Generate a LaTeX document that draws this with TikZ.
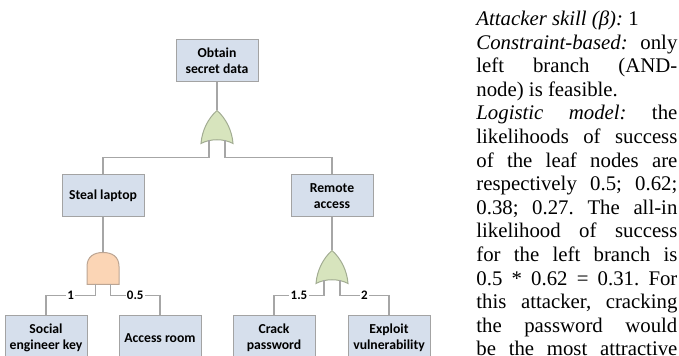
\documentclass[tikz,border=0pt]{standalone}
\usepackage{fontspec}
\setmainfont{Liberation Serif}
\newfontfamily\calibri{Carlito}
\usetikzlibrary{positioning}
\definecolor{boxfill}{HTML}{D6DFEC}
\definecolor{boxline}{HTML}{A3A3A3}
\definecolor{orfill}{HTML}{D7E4BD}
\definecolor{orline}{HTML}{A2AC92}
\definecolor{andfill}{HTML}{FBD5B5}
\definecolor{andline}{HTML}{BCA593}
\definecolor{wirecol}{HTML}{A6A6A6}

\begin{document}
\begin{tikzpicture}[x=0.5pt,y=-0.5pt,
						box/.style={rectangle,draw=boxline,fill=boxfill,line width=0.5pt,minimum width=41pt,minimum height=21pt,inner sep=1pt,align=center,font=\calibri\bfseries\fontsize{6.85}{8}\selectfont},
						leaf/.style={box,minimum height=22pt},
						wire/.style={draw=wirecol,line width=0.6pt},
						wlbl/.style={fill=white,inner sep=0.6pt,font=\calibri\bfseries\fontsize{6.5}{7}\selectfont},
						note/.style={text width=100.5pt,align=justify,inner sep=0pt,font=\fontsize{10.4}{11.8}\selectfont},
						orgate/.pic={\draw[draw=orline,fill=orfill,line width=0.5pt] (0,0) .. controls (-9,8) and (-15,20) .. (-16,33) .. controls (-7,28) and (7,28) .. (16,33) .. controls (15,20) and (9,8) .. (0,0) -- cycle;
							\coordinate (-top) at (0,0); \coordinate (-l) at (-8,30); \coordinate (-r) at (8,30);},
						andgate/.pic={\draw[draw=andline,fill=andfill,line width=0.5pt] (-16,32) -- (-16,14) .. controls (-16,4) and (-9,0) .. (0,0) .. controls (9,0) and (16,4) .. (16,14) -- (16,32) -- cycle;
							\coordinate (-top) at (0,0); \coordinate (-l) at (-7.5,32); \coordinate (-r) at (7.5,32);}]
		\useasboundingbox (0,0) rectangle (679,356);
		\clip (0,0) rectangle (679,356);

		\node[box]												(root)	at (217,61)	{Obtain\\secret data};
		\node[box,node distance=46pt,below=of root,xshift=-57pt]	(steal)	{Steal laptop};
		\node[box,node distance=46pt,below=of root,xshift=57.5pt]	(remote)	{Remote\\access};
		\node[leaf,node distance=49pt,below=of steal,xshift=-28.5pt]	(key)	{Social\\engineer key};
		\node[leaf,node distance=49pt,below=of steal,xshift=28.5pt]	(room)	{Access room};
		\node[leaf,node distance=49pt,below=of remote,xshift=-29pt]	(crack)	{Crack\\password};
		\node[leaf,node distance=49pt,below=of remote,xshift=28.5pt]	(vuln)	{Exploit\\vulnerability};

		\pic[yshift=-14pt]	(g0) at (root.south)	{orgate};
		\pic[yshift=-17.5pt]	(g1) at (steal.south)	{andgate};
		\pic[yshift=-16.5pt]	(g2) at (remote.south)	{orgate};

		\draw[wire] (root.south) -- (g0-top);
		\draw[wire] (g0-l) -- ++(0,17) -| (steal.north);
		\draw[wire] (g0-r) -- ++(0,17) -| (remote.north);
		\draw[wire] (steal.south) -- (g1-top);
		\draw[wire] (remote.south) -- (g2-top);
		\draw[wire] (g1-l) -- ++(0,11) -| node[wlbl,pos=0.25] {1} (key.north);
		\draw[wire] (g1-r) -- ++(0,11) -| node[wlbl,pos=0.25] {0.5} (room.north);
		\draw[wire] (g2-l) -- ++(0,15) -| node[wlbl,pos=0.25] {1.5} (crack.north);
		\draw[wire] (g2-r) -- ++(0,15) -| node[wlbl,pos=0.25] {2} (vuln.north);

		\node[note,anchor=north west]	(txt)	at (476,10.5)	{\tolerance=10000\hbadness=10000\frenchspacing
			\textit{Attacker skill (β):} 1\par
			\textit{Constraint-based:} only\linebreak left branch (AND-\linebreak node) is feasible.\par
			\textit{Logistic model:} the\linebreak likelihoods of success\linebreak of the leaf nodes are\linebreak respectively 0.5; 0.62;\linebreak 0.38; 0.27. The all-in\linebreak likelihood of success\linebreak for the left branch is\linebreak 0.5 * 0.62 = 0.31. For\linebreak this attacker, cracking\linebreak the password would\linebreak be the most attractive{\parfillskip=0pt\par}};
	\end{tikzpicture}
\end{document}
